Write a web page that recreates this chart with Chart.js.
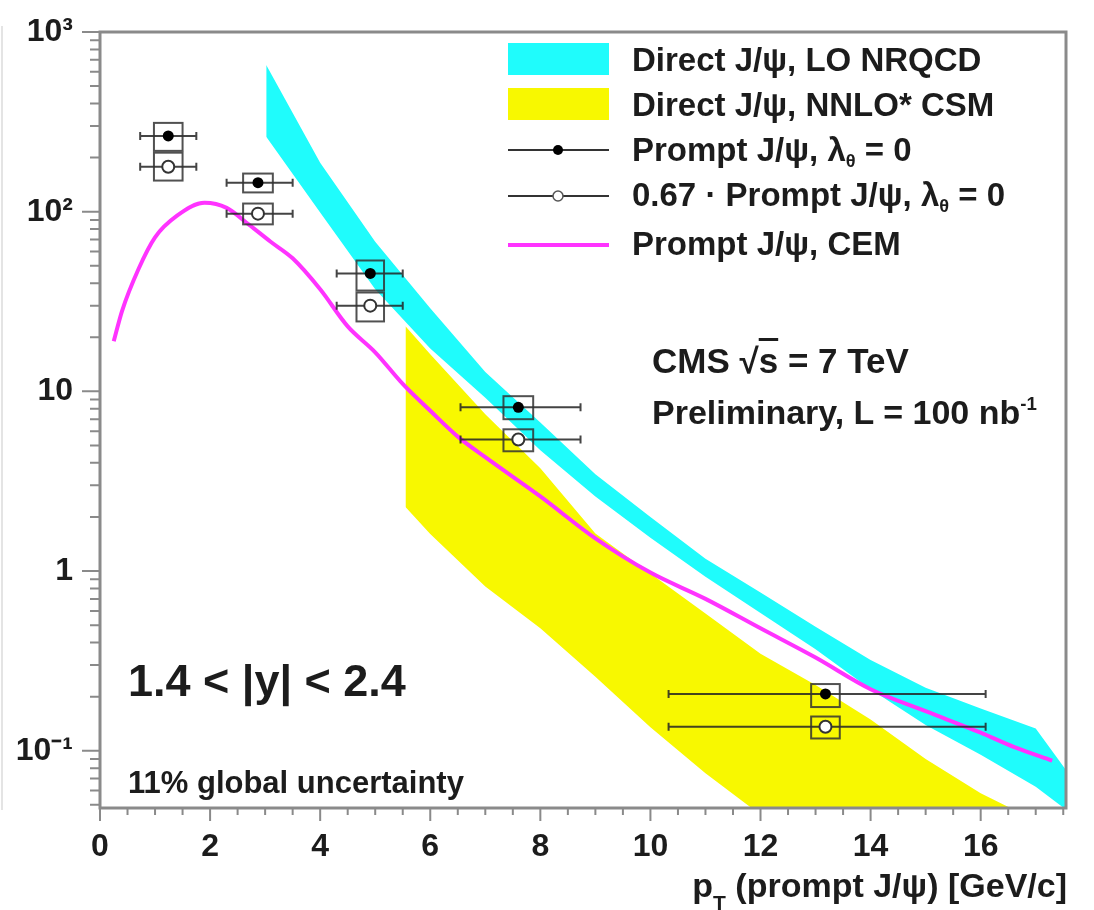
<!DOCTYPE html>
<html>
<head>
<meta charset="utf-8">
<script src="https://cdn.jsdelivr.net/npm/chart.js@4.4.1/dist/chart.umd.min.js"></script>
<style>
  html, body { margin: 0; padding: 0; background: #fff; }
  #wrap { position: relative; width: 1094px; height: 910px; overflow: hidden;
          font-family: "Liberation Sans", Arial, sans-serif; font-weight: bold; color: #1c1c1c; }
  #wrap canvas { position: absolute; left: 0; top: 0; }
  .lbl { position: absolute; white-space: nowrap; line-height: 1; }
  .sub { font-size: 0.55em; position: relative; top: 0.35em; }
  .sup { font-size: 0.55em; position: relative; top: -0.75em; }
</style>
</head>
<body>
<div id="wrap">
  <canvas id="chart" width="1094" height="910"></canvas>

  <div class="lbl" style="left:632px;top:43px;font-size:33px">Direct J/ψ, LO NRQCD</div>
  <div class="lbl" style="left:632px;top:88px;font-size:33px">Direct J/ψ, NNLO* CSM</div>
  <div class="lbl" style="left:632px;top:133px;font-size:33px">Prompt J/ψ, λ<span class="sub">θ</span> = 0</div>
  <div class="lbl" style="left:632px;top:178px;font-size:33px">0.67 · Prompt J/ψ, λ<span class="sub">θ</span> = 0</div>
  <div class="lbl" style="left:632px;top:227px;font-size:33px">Prompt J/ψ, CEM</div>

  <div class="lbl" style="left:652px;top:343px;font-size:35px">CMS √<span style="text-decoration:overline">s</span> = 7 TeV</div>
  <div class="lbl" style="left:652px;top:395px;font-size:34px">Preliminary, L = 100 nb<span class="sup">-1</span></div>

  <div class="lbl" style="left:128px;top:658px;font-size:45px">1.4 &lt; |y| &lt; 2.4</div>
  <div class="lbl" style="left:128px;top:767px;font-size:31px">11% global uncertainty</div>

  <div class="lbl" style="right:27px;top:868px;font-size:34px">p<span style="font-size:21px;position:relative;top:13px">T</span> (prompt J/ψ) [GeV/c]</div>
</div>

<script>
'use strict';

// axis ticks
const xTickValues = [0, 2, 4, 6, 8, 10, 12, 14, 16];
const yTickValues = [0.1, 1, 10, 100, 1000];
const yTickLabels = ['10⁻¹', '1', '10', '10²', '10³'];

// Direct J/psi, LO NRQCD band
const nrqcdPt = [3.02, 4, 5, 6, 7, 8, 9, 10, 11, 12, 13, 14, 15, 16, 17, 17.55];
const nrqcdHi = [656, 187, 68, 29, 12.8, 6.7, 3.46, 2.0, 1.17, 0.76, 0.49, 0.32, 0.224, 0.172, 0.133, 0.078];
const nrqcdLo = [261, 99, 37, 17.3, 9.2, 4.7, 2.6, 1.53, 0.93, 0.585, 0.367, 0.22, 0.139, 0.095, 0.063, 0.047];

// Direct J/psi, NNLO* CSM band
const csmPt = [5.55, 6, 7, 8, 9, 10, 11, 12, 13, 14, 15, 16, 16.6];
const csmHi = [23, 16.1, 7.45, 3.73, 1.62, 0.97, 0.58, 0.347, 0.232, 0.149, 0.090, 0.058, 0.047];
const csmLo = [2.27, 1.61, 0.82, 0.48, 0.258, 0.135, 0.075, 0.044, 0.028, 0.018, 0.011, 0.007, 0.0055];

// Prompt J/psi, CEM
const cemPt  = [0.25, 0.4, 0.7, 1.0, 1.4, 1.9, 2.3, 2.7, 3.1, 3.5, 4.0, 4.5, 5.0, 5.5, 6.0, 6.5, 7.0, 8.0, 9.0, 10.0, 11.0, 12.0, 13.0, 14.0, 15.0, 16.0, 16.6, 17.3];
const cemVal = [19, 28, 48, 72, 95, 112, 105, 85, 68, 55, 37, 23, 16.5, 11, 7.8, 5.6, 4.3, 2.6, 1.52, 0.98, 0.70, 0.48, 0.33, 0.22, 0.166, 0.126, 0.105, 0.088];

// measured points
const ptX  = [1.24, 2.87, 4.91, 7.6, 13.18];
const xLo  = [0.73, 2.3, 4.3, 6.55, 10.33];
const xHi  = [1.75, 3.5, 5.5, 8.73, 16.09];
const sysHalfWidth = [0.26, 0.27, 0.25, 0.27, 0.26];
const yPrompt  = [264, 145, 45.3, 8.15, 0.207];
const sysLo    = [218, 128, 36.4, 7.0, 0.175];
const sysHi    = [312, 163, 53.5, 9.4, 0.235];
const yScaled  = [178, 97.5, 30, 5.4, 0.136];
const sysLo67  = [149, 85, 24.5, 4.64, 0.117];
const sysHi67  = [213, 111, 35.5, 6.15, 0.155];

const CYAN = '#1ffcfc', YELLOW = '#f8f800', MAGENTA = '#ff33ff', AXIS = '#8a8a8a', INK = '#1c1c1c';
const FONT = '"Liberation Sans", Arial, sans-serif';

const xy = (xs, ys) => xs.map((v, i) => ({ x: v, y: ys[i] }));

const errorBars = {
  id: 'errorBars',
  beforeDatasetDraw(chart, args) {
    if (args.index !== 1) return;
    const { ctx, scales: { x, y } } = chart;
    const draw = (vals, lo, hi) => {
      ptX.forEach((p, i) => {
        const cy = y.getPixelForValue(vals[i]);
        const x0 = x.getPixelForValue(xLo[i]), x1 = x.getPixelForValue(xHi[i]);
        ctx.strokeStyle = 'rgba(35,35,35,0.85)';
        ctx.lineWidth = 2;
        ctx.beginPath();
        ctx.moveTo(x0, cy); ctx.lineTo(x1, cy);
        ctx.moveTo(x0, cy - 4); ctx.lineTo(x0, cy + 4);
        ctx.moveTo(x1, cy - 4); ctx.lineTo(x1, cy + 4);
        ctx.stroke();
        const bx0 = x.getPixelForValue(p - sysHalfWidth[i]);
        const bx1 = x.getPixelForValue(p + sysHalfWidth[i]);
        const by0 = y.getPixelForValue(hi[i]), by1 = y.getPixelForValue(lo[i]);
        ctx.strokeStyle = 'rgba(50,50,50,0.85)';
        ctx.strokeRect(bx0, by0, bx1 - bx0, by1 - by0);
      });
    };
    ctx.save();
    draw(yPrompt, sysLo, sysHi);
    draw(yScaled, sysLo67, sysHi67);
    ctx.restore();
  }
};

const frame = {
  id: 'frame',
  afterDraw(chart) {
    const { ctx, chartArea: a, scales: { x, y } } = chart;
    ctx.save();
    // faint line at the left edge of the picture
    ctx.strokeStyle = '#e4e4e4'; ctx.lineWidth = 2;
    ctx.beginPath(); ctx.moveTo(2, 26); ctx.lineTo(2, 810); ctx.stroke();

    ctx.strokeStyle = AXIS;
    ctx.lineWidth = 3;
    ctx.strokeRect(a.left, a.top, a.right - a.left, a.bottom - a.top);

    ctx.lineWidth = 2;
    ctx.beginPath();
    for (let e = -2; e <= 3; e++) {
      for (let m = 1; m <= 9; m++) {
        const v = m * Math.pow(10, e);
        if (v < y.min || v > y.max) continue;
        const py = y.getPixelForValue(v);
        const len = m === 1 ? 18 : 10;
        ctx.moveTo(a.left - len, py); ctx.lineTo(a.left, py);
      }
    }
    for (let v = 0; v <= x.max; v += 0.5) {
      const px = x.getPixelForValue(v);
      const len = v % 2 === 0 ? 13 : 7;
      ctx.moveTo(px, a.bottom); ctx.lineTo(px, a.bottom + len);
    }
    ctx.stroke();

    // legend symbols
    const lx0 = 508, lx1 = 609, lxc = 558;
    ctx.fillStyle = CYAN;   ctx.fillRect(lx0, 43, lx1 - lx0, 32);
    ctx.fillStyle = YELLOW; ctx.fillRect(lx0, 88, lx1 - lx0, 32);
    ctx.strokeStyle = '#333'; ctx.lineWidth = 2;
    ctx.beginPath(); ctx.moveTo(lx0, 150); ctx.lineTo(lx1, 150); ctx.moveTo(lx0, 196); ctx.lineTo(lx1, 196); ctx.stroke();
    ctx.fillStyle = '#000';
    ctx.beginPath(); ctx.arc(lxc, 150, 5, 0, Math.PI * 2); ctx.fill();
    ctx.fillStyle = '#fff'; ctx.strokeStyle = '#555'; ctx.lineWidth = 1.5;
    ctx.beginPath(); ctx.arc(lxc, 196, 5, 0, Math.PI * 2); ctx.fill(); ctx.stroke();
    ctx.strokeStyle = MAGENTA; ctx.lineWidth = 4;
    ctx.beginPath(); ctx.moveTo(lx0, 245); ctx.lineTo(lx1, 245); ctx.stroke();
    ctx.restore();
  }
};

const noOverflow = s => { s.paddingTop = 0; s.paddingBottom = 0; s.paddingLeft = 0; s.paddingRight = 0; };

new Chart(document.getElementById('chart'), {
  type: 'scatter',
  data: {
    datasets: [
      { label: 'Prompt J/ψ, λθ = 0', data: xy(ptX, yPrompt), order: 0,
        pointRadius: 5.5, backgroundColor: '#000', borderWidth: 0 },
      { label: '0.67 · Prompt J/ψ, λθ = 0', data: xy(ptX, yScaled), order: 1,
        pointRadius: 6, backgroundColor: '#fff', borderColor: '#333', borderWidth: 2 },
      { type: 'line', label: 'Prompt J/ψ, CEM', data: xy(cemPt, cemVal), order: 2,
        borderColor: MAGENTA, borderWidth: 4, pointRadius: 0, fill: false,
        cubicInterpolationMode: 'monotone' },
      { type: 'line', label: 'Direct J/ψ, LO NRQCD', data: xy(nrqcdPt, nrqcdHi), order: 3,
        borderWidth: 0, pointRadius: 0, tension: 0, fill: '+1', backgroundColor: CYAN },
      { type: 'line', label: 'LO NRQCD low', data: xy(nrqcdPt, nrqcdLo), order: 4,
        borderWidth: 0, pointRadius: 0, tension: 0, fill: false },
      { type: 'line', label: 'Direct J/ψ, NNLO* CSM', data: xy(csmPt, csmHi), order: 5,
        borderWidth: 0, pointRadius: 0, tension: 0, fill: '+1', backgroundColor: YELLOW },
      { type: 'line', label: 'NNLO* CSM low', data: xy(csmPt, csmLo), order: 6,
        borderWidth: 0, pointRadius: 0, tension: 0, fill: false }
    ]
  },
  options: {
    responsive: false,
    animation: false,
    devicePixelRatio: 1,
    layout: { padding: { left: 0, top: 32, right: 28, bottom: 0 } },
    plugins: { legend: { display: false }, tooltip: { enabled: false } },
    scales: {
      x: {
        type: 'linear', min: 0, max: 17.55,
        grid: { display: false, drawTicks: false }, border: { display: false },
        afterBuildTicks: s => { s.ticks = xTickValues.map(v => ({ value: v })); },
        afterFit: s => { s.height = 102; noOverflow(s); },
        ticks: { color: INK, font: { family: FONT, size: 32, weight: 'bold' }, padding: 20,
                 maxRotation: 0, autoSkip: false, callback: v => String(v) }
      },
      y: {
        type: 'logarithmic', min: 0.048, max: 1000,
        grid: { display: false, drawTicks: false }, border: { display: false },
        afterBuildTicks: s => { s.ticks = yTickValues.map(v => ({ value: v })); },
        afterFit: s => { s.width = 100; noOverflow(s); },
        ticks: { color: INK, font: { family: FONT, size: 32, weight: 'bold' }, padding: 27,
                 autoSkip: false, callback: v => { const i = yTickValues.indexOf(v); return i < 0 ? '' : yTickLabels[i]; } }
      }
    }
  },
  plugins: [errorBars, frame]
});
</script>
</body>
</html>
